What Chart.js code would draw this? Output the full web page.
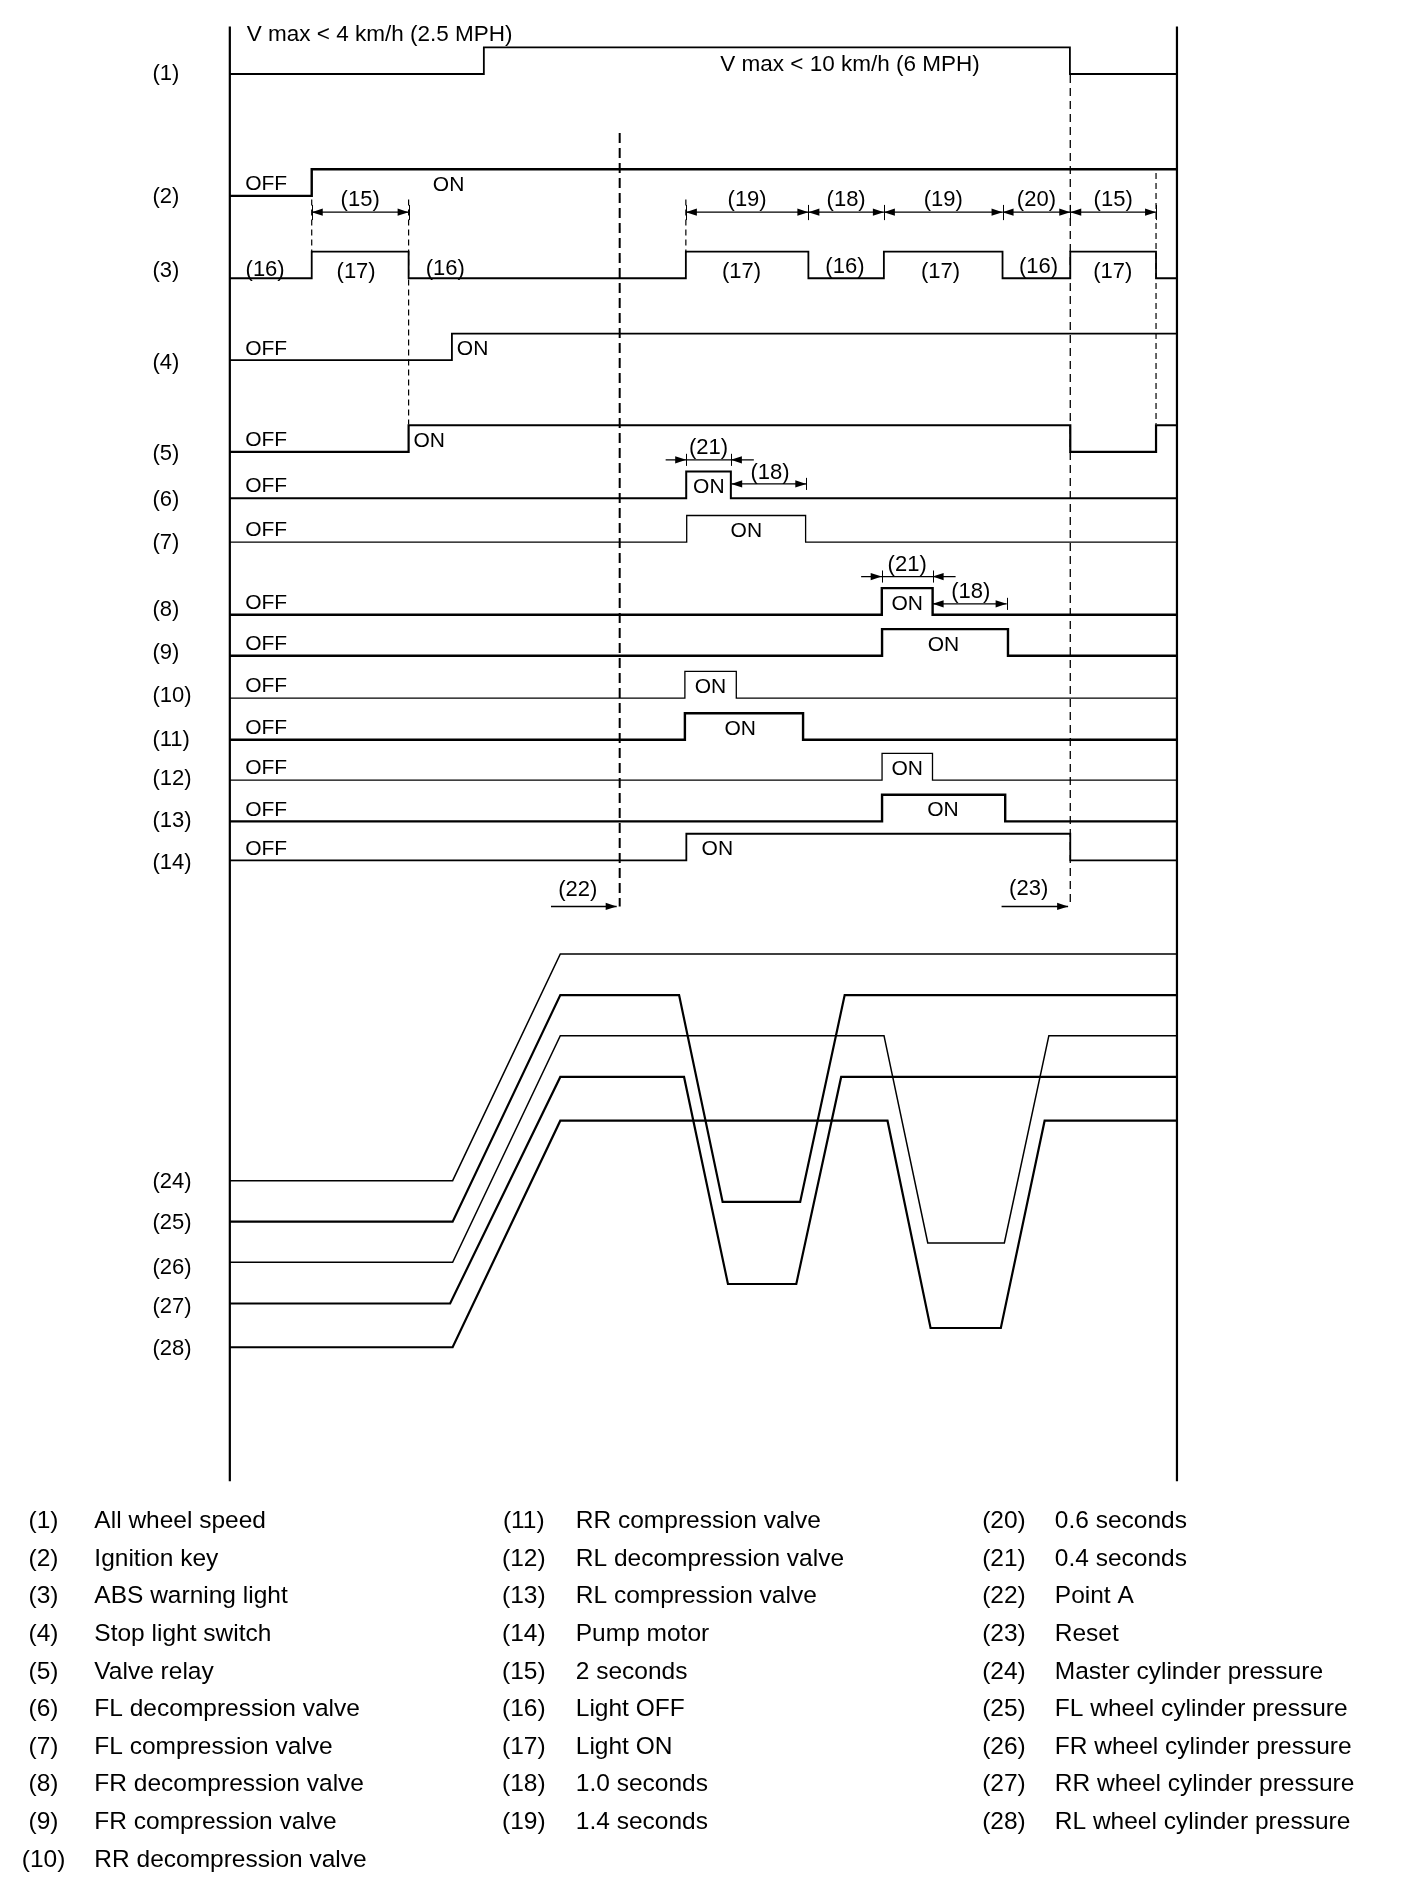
<!DOCTYPE html>
<html lang="en">
<head>
<meta charset="UTF-8">
<title>ABS sequence control timing chart</title>
<script src="https://cdn.jsdelivr.net/npm/chart.js"></script>
<style>
    html, body { margin: 0; padding: 0; background: #ffffff; }
    #wrap { width: 1408px; height: 1896px; }
</style>
</head>
<body>
<div id="wrap"><canvas id="timing" width="1408" height="1896"></canvas></div>
<script>
// ---------- data (schematic time units, not to scale) ----------
var tEnd = 783;

var signalNames = ['All wheel speed', 'Ignition key', 'ABS warning light', 'Stop light switch', 'Valve relay',
    'FL decompression valve', 'FL compression valve', 'FR decompression valve', 'FR compression valve',
    'RR decompression valve', 'RR compression valve', 'RL decompression valve', 'RL compression valve', 'Pump motor'];

// every signal starts low and toggles at each listed time
var signalEdges = [
    [210, 694.5],
    [67.7],
    [67.7, 147.8, 377, 478.3, 540.7, 638.8, 694.8, 765.7],
    [183.6],
    [147.8, 694.8, 765.7],
    [377.3, 414.2],
    [377.7, 476],
    [539, 581],
    [539.2, 643.3],
    [376.2, 418.7],
    [376.2, 473.9],
    [539.2, 580.9],
    [539.2, 641],
    [377.4, 694.8]
];

var pressureNames = ['Master cylinder pressure', 'FL wheel cylinder pressure', 'FR wheel cylinder pressure',
    'RR wheel cylinder pressure', 'RL wheel cylinder pressure'];
var pressureTimes = [
    [0, 184.2, 273.2, 783],
    [0, 184.2, 273.2, 371.4, 407.4, 471.5, 508.3, 783],
    [0, 184.2, 273.2, 540.8, 577, 640.3, 677.1, 783],
    [0, 182.1, 273.2, 375.5, 411.8, 468.3, 505.4, 783],
    [0, 184.2, 273.2, 543.7, 579.3, 637.4, 673.6, 783]
];
var pressureLevels = [
    [0, 0, 1, 1],
    [0, 0, 1, 1, 0.087, 0.087, 1, 1],
    [0, 0, 1, 1, 0.085, 0.085, 1, 1],
    [0, 0, 1, 1, 0.086, 0.086, 1, 1],
    [0, 0, 1, 1, 0.085, 0.085, 1, 1]
];

var noteNames = ['2 seconds', 'Light OFF', 'Light ON', '1.0 seconds', '1.4 seconds', '0.6 seconds',
    '0.4 seconds', 'Point A', 'Reset'];

var pointA = 322.3;
var resetTime = 694.8;
var speedTexts = ['V max < 4 km/h (2.5 MPH)', 'V max < 10 km/h (6 MPH)'];

// timed intervals: [tag, from, to]
var lightSpans = [['(15)', 67.7, 147.8], ['(19)', 377, 478.3], ['(18)', 478.3, 540.7],
    ['(19)', 540.7, 638.8], ['(20)', 638.8, 694.8], ['(15)', 694.8, 765.7]];
var flSpans = [['(21)', 377.3, 414.2], ['(18)', 414.5, 476.6]];
var frSpans = [['(21)', 538.9, 581], ['(18)', 581, 642.2]];

// ---------- layout ----------
var rowBase = [61.2, 162, 230.1, 297.9, 373.7, 412, 448.3, 508.4, 542.3, 577.3, 611.8, 645.1, 679.3, 711.5];
var rowLift = 22;
var rowWidth = [1.8, 2.4, 1.8, 1.8, 2.2, 2, 1.3, 2.4, 2.4, 1.3, 2.4, 1.3, 2.4, 1.8];
var rowTagY = [59.3, 161.2, 222.4, 298.5, 374.2, 412, 447.8, 503, 538.8, 574, 610.4, 642.6, 677.1, 711.8];
var onT = [null, 167.8, null, 187.7, 151.8, 396, 427, 560, 590, 397.4, 422, 560, 589.5, 390];
var pressBase = [976.4, 1010.3, 1043.9, 1078, 1114.2];
var pressLift = 187.4;
var pressWidth = [1.5, 2.2, 1.5, 2.2, 2.2];
var pressTagY = [976, 1010, 1047, 1079, 1114];
var textDrop = 1.5;

var FONT = '"Liberation Sans", Arial, Helvetica, sans-serif';

function line(points, width, extra) {
    var ds = {
        data: points,
        borderColor: '#000',
        borderWidth: width,
        pointRadius: 0,
        fill: false,
        tension: 0,
        showLine: true
    };
    for (var k in extra) ds[k] = extra[k];
    return ds;
}

var datasets = [];

// frame
datasets.push(line([{x: 0, y: 22}, {x: 0, y: 1225}], 2.2));
datasets.push(line([{x: tEnd, y: 22}, {x: tEnd, y: 1225}], 2.2));

// logic signals
signalEdges.forEach(function (edges, i) {
    var state = 0;
    var pts = [{x: 0, y: rowBase[i]}];
    edges.forEach(function (t) {
        state = 1 - state;
        pts.push({x: t, y: rowBase[i] - rowLift * state});
    });
    pts.push({x: tEnd, y: rowBase[i] - rowLift * state});
    datasets.push(line(pts, rowWidth[i], {stepped: 'before'}));
});

// pressures
pressureTimes.forEach(function (ts, i) {
    var pts = ts.map(function (t, j) {
        return {x: t, y: pressBase[i] - pressLift * pressureLevels[i][j]};
    });
    datasets.push(line(pts, pressWidth[i], {borderJoinStyle: 'miter'}));
});

// dashed guides
var thinDash = [6, 4];
datasets.push(line([{x: 67.7, y: 165}, {x: 67.7, y: 209}], 1.2, {borderDash: thinDash}));
datasets.push(line([{x: 147.8, y: 165}, {x: 147.8, y: 351}], 1.2, {borderDash: thinDash}));
datasets.push(line([{x: 377, y: 165}, {x: 377, y: 209}], 1.2, {borderDash: thinDash}));
datasets.push(line([{x: 765.7, y: 143}, {x: 765.7, y: 351}], 1.2, {borderDash: thinDash}));
datasets.push(line([{x: pointA, y: 110}, {x: pointA, y: 749.6}], 2, {borderDash: [10, 5]}));
datasets.push(line([{x: resetTime, y: 62}, {x: resetTime, y: 749.6}], 1.3, {borderDash: [8, 5]}));

// dimension arrows for the warning light
lightSpans.forEach(function (s) {
    datasets.push(line([{x: s[1], y: 175.5}, {x: s[2], y: 175.5}], 1.2, {
        heads: [[s[1], -1], [s[2], 1]],
        ticks: [[s[1], 169.5, 182], [s[2], 169.5, 182]]
    }));
});

// (21) inward arrows and (18) arrows for FL / FR
[[flSpans, 380.3, 400.2], [frSpans, 476.8, 499.4]].forEach(function (g) {
    var a = g[0][0], b = g[0][1];
    datasets.push(line([{x: a[1] - 17, y: g[1]}, {x: a[2] + 19, y: g[1]}], 1.3, {
        heads: [[a[1], 1], [a[2], -1]],
        ticks: [[a[1], g[1] - 5, g[1] + 5], [a[2], g[1] - 5, g[1] + 5]]
    }));
    datasets.push(line([{x: b[1], y: g[2]}, {x: b[2], y: g[2]}], 1.3, {
        heads: [[b[1], -1], [b[2], 1]],
        ticks: [[b[2], g[2] - 5, g[2] + 5]]
    }));
});

// (22) / (23) pointers
datasets.push(line([{x: pointA - 56.8, y: 749.6}, {x: pointA - 2.5, y: 749.6}], 1.5, {heads: [[pointA - 2.5, 1]]}));
datasets.push(line([{x: resetTime - 56.8, y: 749.6}, {x: resetTime - 1.8, y: 749.6}], 1.5, {heads: [[resetTime - 1.8, 1]]}));

// ---------- text labels ----------
var notes = [];
function note(text, t, y, align, size) {
    notes.push({text: text, t: t, y: y, align: align || 'center', size: size || 21});
}
note(speedTexts[0], 14, 27.5, 'left', 22.5);
note(speedTexts[1], 405.5, 52, 'left', 22.5);
rowTagY.forEach(function (y, i) { note('(' + (i + 1) + ')', -64, y, 'left', 22); });
pressTagY.forEach(function (y, i) { note('(' + (i + 24) + ')', -64, y, 'left', 22); });
rowBase.forEach(function (b, i) {
    if (i === 0 || i === 2) return;
    note('OFF', 12.7, b - 11, 'left');
    note('ON', onT[i], b - 10.5, (i === 1 || i === 3 || i === 4 || i === 13) ? 'left' : 'center');
});
lightSpans.forEach(function (s) { note(s[0], (s[1] + s[2]) / 2, 164, 'center', 22); });
[[flSpans, 369, 390], [frSpans, 465.7, 487.8]].forEach(function (g) {
    note(g[0][0][0], (g[0][0][1] + g[0][0][2]) / 2, g[1], 'center', 22);
    note(g[0][1][0], (g[0][1][1] + g[0][1][2]) / 2 + 1, g[2], 'center', 22);
});
note('(16)', 13, 221.8, 'left', 22);
note('(17)', 104.4, 223.2, 'center', 22);
note('(16)', 162, 220.5, 'left', 22);
note('(17)', 423, 223, 'center', 22);
note('(16)', 508.5, 219, 'center', 22);
note('(17)', 587.5, 223, 'center', 22);
note('(16)', 668.5, 219, 'center', 22);
note('(17)', 730, 223, 'center', 22);
note('(22)', 287.7, 734.4, 'center', 22);
note('(23)', 660.4, 734, 'center', 22);

// legend: 28 entries in three columns
var legendText = signalNames.concat(noteNames, pressureNames);
var legendCols = [[0, 10, -154, -112], [10, 19, 243, 286], [19, 28, 640, 682]];
legendCols.forEach(function (c) {
    for (var i = c[0]; i < c[1]; i++) {
        var y = 1256.7 + 31.1 * (i - c[0]);
        note('(' + (i + 1) + ')', c[2], y, 'center', 24.5);
        note(legendText[i], c[3], y, 'left', 24.5);
    }
});

var inkPlugin = {
    id: 'ink',
    afterDatasetsDraw: function (chart) {
        var ctx = chart.ctx, xs = chart.scales.x, ys = chart.scales.y;
        ctx.save();
        ctx.fillStyle = '#000';
        ctx.strokeStyle = '#000';
        chart.data.datasets.forEach(function (ds) {
            var yv = ds.data[0].y;
            (ds.heads || []).forEach(function (h) {
                var px = xs.getPixelForValue(h[0]), py = ys.getPixelForValue(yv);
                ctx.beginPath();
                ctx.moveTo(px, py);
                ctx.lineTo(px - h[1] * 11, py - 3.6);
                ctx.lineTo(px - h[1] * 11, py + 3.6);
                ctx.closePath();
                ctx.fill();
            });
            (ds.ticks || []).forEach(function (k) {
                var px = Math.round(xs.getPixelForValue(k[0])) + 0.5;
                ctx.lineWidth = 1;
                ctx.beginPath();
                ctx.moveTo(px, ys.getPixelForValue(k[1]));
                ctx.lineTo(px, ys.getPixelForValue(k[2]));
                ctx.stroke();
            });
        });
        ctx.textBaseline = 'middle';
        notes.forEach(function (n) {
            ctx.font = n.size + 'px ' + FONT;
            ctx.textAlign = n.align;
            ctx.fillText(n.text, xs.getPixelForValue(n.t), ys.getPixelForValue(n.y + textDrop));
        });
        ctx.restore();
    }
};

new Chart(document.getElementById('timing'), {
    type: 'scatter',
    data: {datasets: datasets},
    options: {
        responsive: false,
        animation: false,
        devicePixelRatio: 1,
        layout: {padding: 0},
        plugins: {legend: {display: false}, tooltip: {enabled: false}},
        scales: {
            x: {type: 'linear', display: false, min: -190, max: 974},
            y: {type: 'linear', display: false, min: 0, max: 1568, reverse: true}
        }
    },
    plugins: [inkPlugin]
});
</script>
</body>
</html>
